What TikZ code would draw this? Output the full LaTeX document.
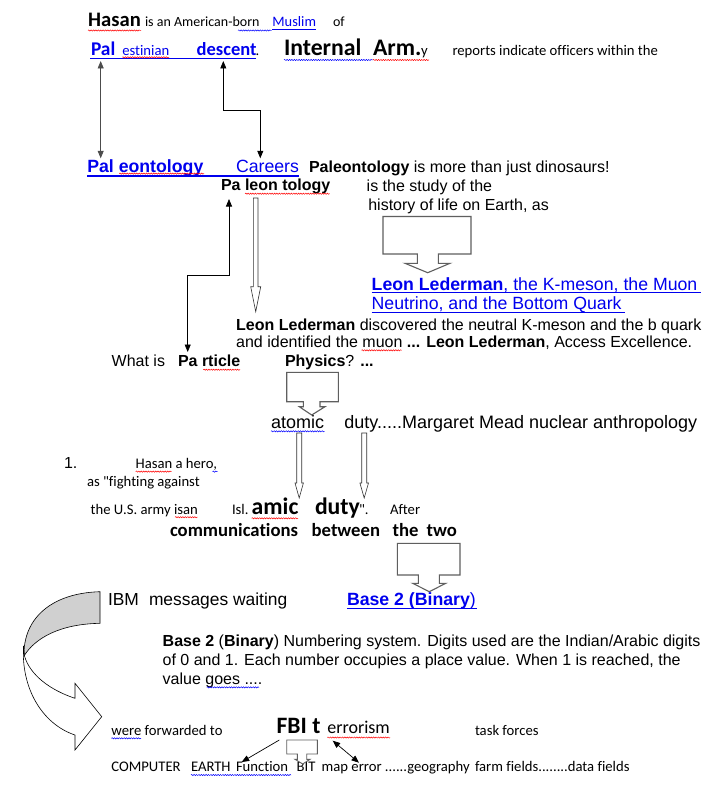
\documentclass[tikz,border=0pt]{standalone}
\usepackage{fontspec}
\setmainfont{Liberation Sans}[Ligatures={NoCommon}]
\newfontfamily\calfont{Carlito}[Ligatures={NoCommon}]
\usetikzlibrary{arrows.meta,decorations.pathmorphing}
\definecolor{linkblue}{RGB}{0,0,238}
\definecolor{boxgray}{RGB}{95,95,95}
\definecolor{ribbongray}{RGB}{208,208,208}
\newcommand\AF[1]{\fontsize{#1}{#1}\selectfont\rmfamily}
\newcommand\CF[1]{\fontsize{#1}{#1}\selectfont\calfont}
\tikzset{
  t/.style={anchor=base west, inner sep=0pt, outer sep=0pt},
  lk/.style={text=linkblue},
  conn/.style={line width=0.8pt, draw=black},
  tipT/.tip={Triangle[length=7.5pt,width=6pt]},
  blockarrow/.style={draw=boxgray, line width=1.1pt, fill=white, line join=miter},
  hollowarrow/.style={draw=black!80, line width=0.6pt, fill=white, line join=miter},
  uline/.style={draw=linkblue, line width=1.1pt},
  wavyred/.style={draw=red, line width=0.5pt, decorate, decoration={snake, amplitude=0.6pt, segment length=2.4pt}},
  wavyblue/.style={draw=blue, line width=0.5pt, decorate, decoration={snake, amplitude=0.6pt, segment length=2.4pt}},
}
\begin{document}
\begin{tikzpicture}[x=1pt,y=-1pt]
\useasboundingbox (0,0) rectangle (712,789);
\fill[white] (0,0) rectangle (712,789);

% ---- line 1
\node[t,font={\CF{20.6}\bfseries}] (hasan) at (88.2,26.7) {Hasan};
\node[t,font={\CF{14}}] (isan) at (145,26.7) {is an American-born};
\node[t,font={\CF{14.4}},lk] (muslim) at (272.4,26.7) {Muslim};
\node[t,font={\CF{14}}] (of) at (333,26.7) {of};
\draw[uline,line width=0.8pt] (272.4,29) -- (316,29);
\draw[wavyred] (88,30.5) -- (141,30.5);
\draw[wavyblue] (238,30.5) -- (271.5,30.5);

% ---- line 2
\node[t,font={\CF{19.4}\bfseries},lk] (pal) at (91,55.7) {Pal};
\node[t,font={\CF{14.67}},lk] (estinian) at (122.3,55.7) {estinian};
\node[t,font={\CF{18.5}\bfseries},lk] (descent) at (196.7,55.7) {descent};
\node[t,font={\CF{14.67}}] (dot) at (255.5,55.7) {.};
\node[t,font={\CF{23.7}\bfseries}] (internal) at (284,55.7) {Internal};
\node[t,font={\CF{23.7}\bfseries}] (arm) at (373,55.7) {Arm.};
\node[t,font={\CF{14.67}}] (yy) at (421,55.7) {y};
\node[t,font={\CF{14.67}}] (reports) at (452.5,55.7) {reports indicate officers within the};
\draw[uline] (90,58.8) -- (255.7,58.8);
\draw[wavyred] (122.3,57.3) -- (169,57.3);
\draw[wavyblue] (284,60) -- (373,60);
\draw[wavyred] (373,60) -- (429,60);

% ---- connectors top
\coordinate (a1s) at (100.7,61);
\coordinate (a1e) at (100.7,158.3);
\draw[conn,black!70,{tipT}-{tipT}] (a1s) -- (a1e);
\coordinate (a2s) at (223.3,61);
\coordinate (a2m1) at (223.3,110);
\coordinate (a2m2) at (260.3,110);
\coordinate (a2e) at (260.3,158.3);
\draw[conn,{tipT}-{tipT}] (a2s) -- (a2m1) -- (a2m2) -- (a2e);

% ---- line 3
\node[t,font={\AF{17.7}\bfseries},lk] (paleo) at (87.3,172) {Pal eontology};
\node[t,font={\AF{17.7}},lk] (careers) at (236,172) {Careers};
\draw[uline,line width=1.3pt] (87.3,175.9) -- (298.6,175.9);
\draw[wavyred] (119.3,173.6) -- (204,173.6);
\node[t,font={\AF{16}}] (paleo2) at (309,172) {\textbf{Paleontology} is more than just dinosaurs!};
\node[t,font={\AF{16}\bfseries}] (paleon) at (221,190.7) {Pa leon tology};
\draw[wavyred] (245,193.7) -- (329.7,193.7);
\node[t,font={\AF{16}}] (study) at (366.7,191.2) {is the study of the};
\node[t,font={\AF{16}}] (history) at (368.3,210) {history of life on Earth, as};

% block arrow 1
\draw[blockarrow] (383,216.5) -- (471,216.5) -- (471,254) -- (438.3,254) -- (438.3,263.3) -- (450,263.3) -- (427.7,272.7) -- (405,263.3) -- (417.3,263.3) -- (417.3,254) -- (383,254) -- cycle;

\node[t,font={\AF{17.7}},lk] (leon1) at (371.7,290) {\textbf{Leon Lederman}, the K-meson, the Muon};
\node[t,font={\AF{17.7}},lk] (leon2) at (371.7,309.7) {Neutrino, and the Bottom Quark};
\draw[uline] (371.7,292.6) -- (701,292.6);
\draw[uline] (371.7,312.3) -- (625.3,312.3);

% hollow arrow from Pa leon tology
\draw[hollowarrow] (253.3,198) -- (258,198) -- (258,286.7) -- (260.7,286.7) -- (255.7,311.7) -- (250.7,286.7) -- (253.3,286.7) -- cycle;

% elbow connector to Particle
\coordinate (b1s) at (229,199);
\coordinate (b1m1) at (229,275);
\coordinate (b1m2) at (187.7,275);
\coordinate (b1e) at (187.7,352);
\draw[conn,{tipT}-{tipT}] (b1s) -- (b1m1) -- (b1m2) -- (b1e);

\node[t,font={\AF{16}}] (disc1) at (236.2,330) {\textbf{Leon Lederman} discovered the neutral K-meson and the b quark};
\node[t,font={\AF{16}}] (disc2) at (236.2,347.5) {and identified the muon \textbf{...} \textbf{Leon Lederman}, Access Excellence.};
\draw[wavyred] (361.5,350.3) -- (401.5,350.3);
\node[t,font={\AF{16}}] (whatis) at (111.7,366.7) {What is};
\node[t,font={\AF{16}\bfseries}] (particle) at (178,366.7) {Pa rticle};
\draw[wavyred] (203.3,369.7) -- (240,369.7);
\node[t,font={\AF{16}}] (physics) at (285,366.7) {\textbf{Physics}? \textbf{...}};

% block arrow 2
\draw[blockarrow] (286.7,372.3) -- (338.3,372.3) -- (338.3,401.7) -- (320,401.7) -- (320,406.7) -- (325,406.7) -- (311.7,415) -- (299.3,406.7) -- (303.3,406.7) -- (303.3,401.7) -- (286.7,401.7) -- cycle;

\node[t,font={\AF{18}}] (atomic) at (271,428.3) {atomic};
\draw[wavyblue] (271,431.3) -- (324.5,431.3);
\node[t,font={\AF{18}}] (duty1) at (344.4,428.3) {duty.....Margaret Mead nuclear anthropology};

% hollow arrows atomic / duty
\draw[hollowarrow] (296.7,433) -- (301.7,433) -- (301.7,483) -- (303.4,483) -- (299.2,498) -- (295,483) -- (296.7,483) -- cycle;
\draw[hollowarrow] (361.7,433) -- (366.7,433) -- (366.7,483) -- (368.5,483) -- (364.2,498) -- (359.9,483) -- (361.7,483) -- cycle;

\node[t,font={\AF{16}}] (one) at (64,468.3) {1.};
\node[t,font={\CF{14.67}}] (hero) at (135.7,468.3) {Hasan a hero,};
\draw[wavyred] (135.7,471.6) -- (171.7,471.6);
\draw[wavyblue] (212.5,471.6) -- (217.5,471.6);
\node[t,font={\CF{14.67}}] (fight) at (87,486) {as "fighting against};
\node[t,font={\CF{14.67}}] (army) at (90.7,514) {the U.S. army isan};
\draw[wavyred] (175,517.2) -- (197.7,517.2);
\node[t,font={\CF{14.67}}] (isl) at (232,514.7) {Isl.};
\node[t,font={\CF{23.7}\bfseries}] (amic) at (251.7,514.7) {amic};
\draw[wavyred] (251.7,518.3) -- (298,518.3);
\node[t,font={\CF{23.7}\bfseries}] (duty2) at (315,514.7) {duty};
\node[t,font={\CF{14.67}}] (quote) at (359,514.7) {".};
\node[t,font={\CF{14.67}}] (after) at (390,514.7) {After};
\node[t,font={\CF{18.67}\bfseries}] (comm) at (170,536.7) {communications};
\node[t,font={\CF{18.67}\bfseries}] (between) at (311.7,536.7) {between};
\node[t,font={\CF{18.67}\bfseries}] (the) at (392.7,536.7) {the};
\node[t,font={\CF{18.67}\bfseries}] (two) at (426.7,536.7) {two};

% block arrow 3
\draw[blockarrow] (397.3,543.3) -- (460,543.3) -- (460,575) -- (439.3,575) -- (439.3,583.3) -- (445.7,583.3) -- (429.3,591.7) -- (412.7,583.3) -- (418.3,583.3) -- (418.3,575) -- (397.3,575) -- cycle;

\node[t,font={\AF{17.4}}] (ibm) at (108,605.5) {IBM};
\node[t,font={\AF{17.4}}] (msgs) at (149,605.5) {messages waiting};
\node[t,font={\AF{17.7}\bfseries},lk] (base) at (347,605.5) {Base 2 (Binary\textmd{)}};
\draw[uline] (347,608.6) -- (477,608.6);

% curved arrow
\draw[black, line width=0.6pt, fill=ribbongray] (100,591.7) .. controls (52,593) and (23,618) .. (24,656) .. controls (35,638) and (60,624) .. (100,623.3) -- cycle;
\draw[black, line width=0.6pt, fill=white] (23.5,646) .. controls (21,688) and (42,724) .. (75,735) -- (75,750) -- (101.7,716.7) -- (75,683.3) -- (75,698.3) .. controls (50,690) and (30,675) .. (24.5,656) -- cycle;

% paragraph
\node[t,font={\AF{16}}] (p1) at (162.7,646) {\textbf{Base 2} (\textbf{Binary}) Numbering system. Digits used are the Indian/Arabic digits};
\node[t,font={\AF{16}}] (p2) at (162.7,665) {of 0 and 1. Each number occupies a place value. When 1 is reached, the};
\node[t,font={\AF{16}}] (p3) at (162.7,684) {value goes ....};
\draw[wavyblue] (206.8,687.3) -- (259,687.3);

% bottom
\node[t,font={\CF{14.67}}] (fwd) at (111.4,735) {were forwarded to};
\draw[wavyblue] (111.4,738.3) -- (141,738.3);
\node[t,font={\CF{23.5}\bfseries}] (fbi) at (276.7,733.3) {FBI t};
\node[t,font={\CF{18}}] (terr) at (327.3,733.3) {errorism};
\draw[wavyred] (327.3,737.5) -- (390,737.5);
\node[t,font={\CF{14.67}}] (task) at (475,735) {task forces};
\node[t,font={\CF{14.67}}] (computer) at (111.4,771.7) {COMPUTER};
\node[t,font={\CF{14.67}}] (earth) at (191,771.7) {EARTH};
\node[t,font={\CF{14.67}}] (function) at (236,771.7) {Function};
\draw[wavyblue] (191,775) -- (291,775);
\node[t,font={\CF{14.67}}] (bit) at (296.7,771.7) {BIT};
\node[t,font={\CF{14.67}}] (maperr) at (321.7,771.7) {map error ......geography};
\node[t,font={\CF{14.67}}] (farm) at (475,771.7) {farm fields........data fields};

% block arrow 4
\draw[blockarrow, line width=0.9pt] (286.7,740) -- (317.3,740) -- (317.3,754) -- (306.7,754) -- (306.7,759.3) -- (310,759.3) -- (302.7,764) -- (295,759.3) -- (297.3,759.3) -- (297.3,754) -- (286.7,754) -- cycle;

% small connectors bottom
\coordinate (c1s) at (279.3,740);
\coordinate (c1e) at (241.7,762);
\draw[conn,line width=0.7pt,-{tipT}] (c1s) -- (c1e);
\coordinate (c2s) at (332.7,740.7);
\coordinate (c2e) at (359,762.7);
\draw[conn,line width=0.7pt,{tipT}-{tipT}] (c2s) -- (c2e);
\end{tikzpicture}
\end{document}
